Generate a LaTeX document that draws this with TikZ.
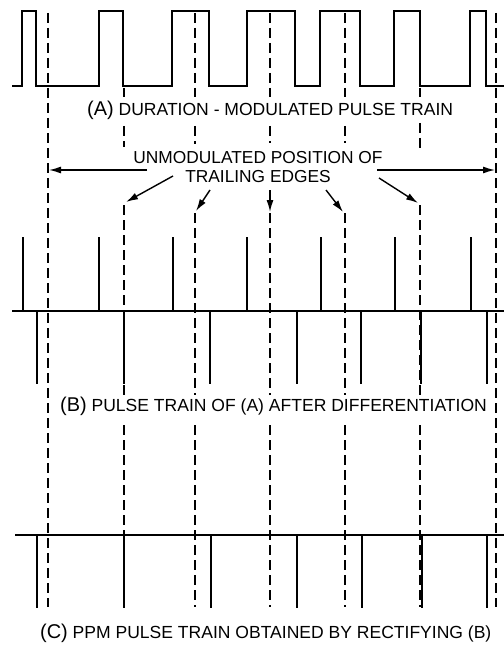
\documentclass[tikz,border=0pt]{standalone}
\usepackage{fontspec}
\setmainfont{Liberation Sans}
\usetikzlibrary{arrows.meta}
\newcommand\capletter[1]{{\fontsize{20}{24}\selectfont #1}}
\begin{document}
\begin{tikzpicture}[x=1bp,y=-1bp,
  wave/.style={line width=1.8bp, line join=miter},
  spike/.style={line width=1.8bp},
  guide/.style={line width=1.6bp, dash pattern=on 10bp off 5bp},
  arr/.style={line width=1.4bp, -{Latex[length=12bp,width=7bp]}},
  capt/.style={anchor=base west, inner sep=0pt, font=\fontsize{17.6}{19}\selectfont},
  lbl/.style={align=center, inner sep=0pt, font=\fontsize{17.4}{19}\selectfont}]
\useasboundingbox (0,0) rectangle (504,648);
% (A) duration-modulated pulse train
\draw[wave] (12,86) -- (22,86) -- (22,11) -- (36,11) -- (36,86)
  -- (99,86) -- (99,11) -- (123,11) -- (123,86)
  -- (172,86) -- (172,11) -- (209,11) -- (209,86)
  -- (247,86) -- (247,11) -- (295,11) -- (295,86)
  -- (320,86) -- (320,11) -- (360,11) -- (360,86)
  -- (394,86) -- (394,11) -- (420,11) -- (420,86)
  -- (470,86) -- (470,11) -- (486,11) -- (486,86) -- (504,86);
\node[capt] (capA) at (87,116) {\capletter{(A)} DURATION - MODULATED PULSE TRAIN};
% guides
\draw[guide] (48,13) -- (48,607);
\draw[guide] (496,13) -- (496,607);
\foreach \x in {195,270,345} \draw[guide] (\x,13) -- (\x,97);
\foreach \x in {124,420} \draw[guide] (\x,88) -- (\x,97);
\draw[guide] (124,126) -- (124,147);
\draw[guide] (195,126) -- (195,144);
\draw[guide] (270,126) -- (270,143);
\draw[guide] (345,126) -- (345,143);
\draw[guide] (420,123) -- (420,152);
\draw[guide] (124,205) -- (124,395);
\draw[guide] (195,213) -- (195,395);
\draw[guide] (270,213) -- (270,395);
\draw[guide] (345,213) -- (345,395);
\draw[guide] (420,205) -- (420,395);
\foreach \x in {124,195,270,345,420} \draw[guide] (\x,425) -- (\x,607);
% label with arrows
\node[lbl] (lab) at (258,167) {UNMODULATED POSITION OF\\TRAILING EDGES};
\coordinate (s0) at (147,170); \coordinate (t0) at (49,170);
\coordinate (s1) at (173,176); \coordinate (t1) at (126,202);
\coordinate (s2) at (210,190); \coordinate (t2) at (196,211);
\coordinate (s3) at (270,190); \coordinate (t3) at (270,212);
\coordinate (s4) at (326,190); \coordinate (t4) at (343,212);
\coordinate (s5) at (379,178); \coordinate (t5) at (418,203);
\coordinate (s6) at (377,170); \coordinate (t6) at (495,170);
\foreach \i in {0,...,6} \draw[arr] (s\i) -- (t\i);
% (B) differentiated
\draw[spike] (12,311) -- (504,311);
\foreach \x in {23,99,173,247,321,395,471} \draw[spike] (\x,311) -- (\x,237);
\foreach \x in {37,124,210,297,361,421,487} \draw[spike] (\x,311) -- (\x,384);
\node[capt] (capB) at (60,411) {\capletter{(B)} PULSE TRAIN OF (A) AFTER DIFFERENTIATION};
% (C) rectified
\draw[spike] (15,535) -- (504,535);
\foreach \x in {37,124,211,297,362,422,487} \draw[spike] (\x,535) -- (\x,608);
\node[capt] (capC) at (40,638) {\capletter{(C)} PPM PULSE TRAIN OBTAINED BY RECTIFYING (B)};
\end{tikzpicture}
\end{document}
